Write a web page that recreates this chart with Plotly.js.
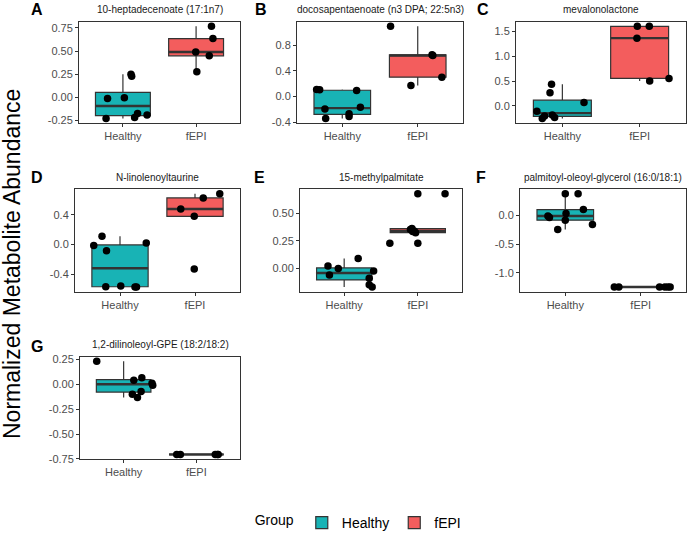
<!DOCTYPE html>
<html>
<head>
<meta charset="utf-8">
<script src="https://cdn.plot.ly/plotly-3.0.1.min.js"></script>
<style>
html, body { margin: 0; padding: 0; background: #fff; }
#chart { width: 689px; height: 539px; }
</style>
</head>
<body>
<div id="chart"></div>
<script>
const W = 689, H = 539;
const groups = ["Healthy", "fEPI"];
const boxColors = ["#18B3B5", "#F35D5D"];

// A
const titleA = "10-heptadecenoate (17:1n7)";
const healthyA = [-0.014, -0.006, 0.247, 0.226, -0.232, -0.222, -0.177, -0.194];
const healthyJitA = [-0.21, 0.02, 0.11, 0.12, -0.23, 0.16, 0.20, 0.33];
const fepiA = [0.768, 0.635, 0.49, 0.448, 0.275];
const fepiJitA = [0.21, 0.23, -0.005, 0.18, 0.01];
const ticksA = [-0.25, 0, 0.25, 0.5, 0.75];

// B
const titleB = "docosapentaenoate (n3 DPA; 22:5n3)";
const healthyB = [0.11, 0.108, 0.095, -0.193, -0.341, -0.267, -0.311, -0.167];
const healthyJitB = [-0.34, -0.30, 0.19, -0.23, -0.22, 0.09, 0.09, 0.24];
const fepiB = [1.092, 0.637, 0.65, 0.301, 0.173];
const fepiJitB = [-0.36, 0.2, 0.19, 0.32, -0.09];
const ticksB = [-0.4, 0, 0.4, 0.8];

// C
const titleC = "mevalonolactone";
const healthyC = [-0.108, -0.256, -0.205, 0.437, 0.263, -0.185, -0.237, 0.065];
const healthyJitC = [-0.33, -0.26, -0.23, -0.14, -0.16, -0.13, -0.10, 0.28];
const fepiC = [1.604, 1.604, 1.365, 0.5, 0.552];
const fepiJitC = [-0.03, 0.125, -0.035, 0.13, 0.38];
const ticksC = [0, 0.5, 1.0, 1.5];

// D
const titleD = "N-linolenoyltaurine";
const healthyD = [-0.013, 0.113, -0.082, 0.022, -0.567, -0.558, -0.571, -0.571];
const healthyJitD = [-0.35, -0.24, -0.18, 0.35, -0.19, 0.01, 0.20, 0.22];
const fepiD = [0.48, 0.628, 0.684, 0.38, -0.329];
const fepiJitD = [-0.19, 0.11, 0.33, -0.01, -0.01];
const ticksD = [-0.4, 0, 0.4];

// E
const titleE = "15-methylpalmitate";
const healthyE = [0.023, -0.058, 0.0, 0.092, -0.021, -0.087, -0.145, -0.165];
const healthyJitE = [-0.22, -0.2, -0.08, 0.19, 0.40, 0.34, 0.34, 0.38];
const fepiE = [0.673, 0.673, 0.228, 0.228, 0.352, 0.335, 0.323, 0.338, 0.36];
const fepiJitE = [0.0, 0.37, -0.38, 0.0, -0.10, -0.07, -0.03, -0.05, -0.08];
const ticksE = [0, 0.25, 0.5];

// F
const titleF = "palmitoyl-oleoyl-glycerol (16:0/18:1)";
const healthyF = [-0.01, -0.039, -0.245, 0.375, 0.375, 0.034, -0.084, 0.10, -0.161];
const healthyJitF = [-0.23, -0.21, -0.10, 0.0, 0.17, 0.01, 0.0, 0.24, 0.36];
const fepiF = [-1.245, -1.245, -1.245, -1.245, -1.245, -1.245];
const fepiJitF = [-0.35, -0.29, 0.25, 0.32, 0.36, 0.39];
const ticksF = [-1.0, -0.5, 0.0];

// G
const titleG = "1,2-dilinoleoyl-GPE (18:2/18:2)";
const healthyG = [0.231, 0.04, 0.066, 0.01, -0.01, -0.072, -0.099, -0.132];
const healthyJitG = [-0.37, 0.14, 0.25, 0.39, 0.40, 0.24, 0.12, 0.19];
const fepiG = [-0.705, -0.705, -0.705, -0.705, -0.705];
const fepiJitG = [-0.27, -0.22, 0.26, 0.29, 0.30];
const ticksG = [-0.75, -0.5, -0.25, 0, 0.25];

const panels = [
  {tag: "A", title: titleA, vals: [healthyA, fepiA], jit: [healthyJitA, fepiJitA], ticks: ticksA, dec: 2},
  {tag: "B", title: titleB, vals: [healthyB, fepiB], jit: [healthyJitB, fepiJitB], ticks: ticksB, dec: 1},
  {tag: "C", title: titleC, vals: [healthyC, fepiC], jit: [healthyJitC, fepiJitC], ticks: ticksC, dec: 1},
  {tag: "D", title: titleD, vals: [healthyD, fepiD], jit: [healthyJitD, fepiJitD], ticks: ticksD, dec: 1},
  {tag: "E", title: titleE, vals: [healthyE, fepiE], jit: [healthyJitE, fepiJitE], ticks: ticksE, dec: 2},
  {tag: "F", title: titleF, vals: [healthyF, fepiF], jit: [healthyJitF, fepiJitF], ticks: ticksF, dec: 1},
  {tag: "G", title: titleG, vals: [healthyG, fepiG], jit: [healthyJitG, fepiJitG], ticks: ticksG, dec: 2}
];

// panel boxes in px: left, right, top, bottom ; letter position x, y
const boxPx = [
  [79, 240, 22, 125, 37, 10],
  [297, 463, 22, 125, 261, 10],
  [516, 686, 22, 125, 483, 10],
  [75, 240, 192, 296, 37, 180],
  [300, 462, 192, 296, 259, 180],
  [520, 686, 192, 296, 481, 180],
  [80, 240, 362, 466, 37, 352]
];

// ggplot style box stats (type 7 quantiles, 1.5 IQR whiskers)
function boxStats(vals) {
  const s = vals.slice().sort((a, b) => a - b);
  const q = p => {
    const h = (s.length - 1) * p, lo = Math.floor(h);
    return lo + 1 < s.length ? s[lo] + (h - lo) * (s[lo + 1] - s[lo]) : s[lo];
  };
  const q1 = q(0.25), med = q(0.5), q3 = q(0.75), iqr = q3 - q1;
  const inside = s.filter(v => v >= q1 - 1.5 * iqr && v <= q3 + 1.5 * iqr);
  return {q1: q1, med: med, q3: q3, lf: Math.min(q1, inside[0]), uf: Math.max(q3, inside[inside.length - 1])};
}

const font = "Liberation Sans, Arial, sans-serif";
let traces = [];
let layout = {
  width: W, height: H,
  margin: {l: 0, r: 0, t: 0, b: 0},
  paper_bgcolor: "white",
  plot_bgcolor: "white",
  font: {family: font, color: "#000"},
  boxmode: "overlay",
  showlegend: true,
  legend: {
    orientation: "h", x: 0.522, xanchor: "center", y: 1 - 531 / H, yanchor: "middle",
    itemwidth: 30, tracegroupgap: 0,
    title: {text: "Group", font: {size: 14, color: "#000"}},
    font: {size: 14, color: "#000"}
  },
  annotations: []
};

panels.forEach((p, i) => {
  const n = i === 0 ? "" : String(i + 1);
  const px = boxPx[i];
  const all = p.vals[0].concat(p.vals[1]);
  const lo = Math.min(...all), hi = Math.max(...all);
  const pad = (hi - lo) * 0.05;

  for (let g = 0; g < 2; g++) {
    const st = boxStats(p.vals[g]);
    traces.push({
      type: "box", x: [g], q1: [st.q1], median: [st.med], q3: [st.q3],
      lowerfence: [st.lf], upperfence: [st.uf], width: 0.75,
      xaxis: "x" + n, yaxis: "y" + n,
      name: groups[g], legendgroup: groups[g], showlegend: i === 0,
      fillcolor: boxColors[g],
      line: {color: "#333333", width: 1.2},
      whiskerwidth: 0, boxpoints: false,
      hoverinfo: "skip"
    });
    // thicker median bar, like ggplot
    traces.push({
      type: "box", x: [g], q1: [st.med], median: [st.med], q3: [st.med],
      lowerfence: [st.med], upperfence: [st.med], width: 0.75,
      xaxis: "x" + n, yaxis: "y" + n,
      fillcolor: "rgba(0,0,0,0)", showlegend: false,
      line: {color: "#333333", width: 2.4},
      whiskerwidth: 0, boxpoints: false, hoverinfo: "skip"
    });
  }
  for (let g = 0; g < 2; g++) {
    traces.push({
      type: "scatter", mode: "markers",
      x: p.jit[g].map(j => g + j), y: p.vals[g],
      xaxis: "x" + n, yaxis: "y" + n,
      marker: {color: "#000", size: 7.5},
      showlegend: false, hoverinfo: "skip"
    });
  }

  const axStyle = {
    showline: true, mirror: true, linecolor: "#333333", linewidth: 1,
    ticks: "outside", ticklen: 3, tickcolor: "#333333", tickwidth: 1,
    tickfont: {size: 11, color: "#4D4D4D"},
    showgrid: false, zeroline: false, fixedrange: true
  };
  layout["xaxis" + n] = Object.assign({}, axStyle, {
    domain: [px[0] / W, px[1] / W], anchor: "y" + n,
    range: [-0.6, 1.6], tickvals: [0, 1], ticktext: groups
  });
  layout["yaxis" + n] = Object.assign({}, axStyle, {
    domain: [1 - px[3] / H, 1 - px[2] / H], anchor: "x" + n,
    range: [lo - pad, hi + pad],
    tickvals: p.ticks, ticktext: p.ticks.map(v => v.toFixed(p.dec))
  });

  layout.annotations.push({
    text: p.title, xref: "paper", yref: "paper",
    x: (px[0] + px[1]) / 2 / W, y: 1 - (px[2] - 12) / H,
    xanchor: "center", yanchor: "middle", showarrow: false,
    font: {size: 10, color: "#1A1A1A"}
  });
  layout.annotations.push({
    text: "<b>" + p.tag + "</b>", xref: "paper", yref: "paper",
    x: px[4] / W, y: 1 - px[5] / H,
    xanchor: "center", yanchor: "middle", showarrow: false,
    font: {size: 16, color: "#000"}
  });
});

layout.annotations.push({
  text: "Normalized Metabolite Abundance", xref: "paper", yref: "paper",
  x: 12 / W, y: 1 - 268 / H, textangle: -90,
  xanchor: "center", yanchor: "middle", showarrow: false,
  font: {size: 23, color: "#000"}
});

Plotly.newPlot("chart", traces, layout, {staticPlot: true});
</script>
</body>
</html>
